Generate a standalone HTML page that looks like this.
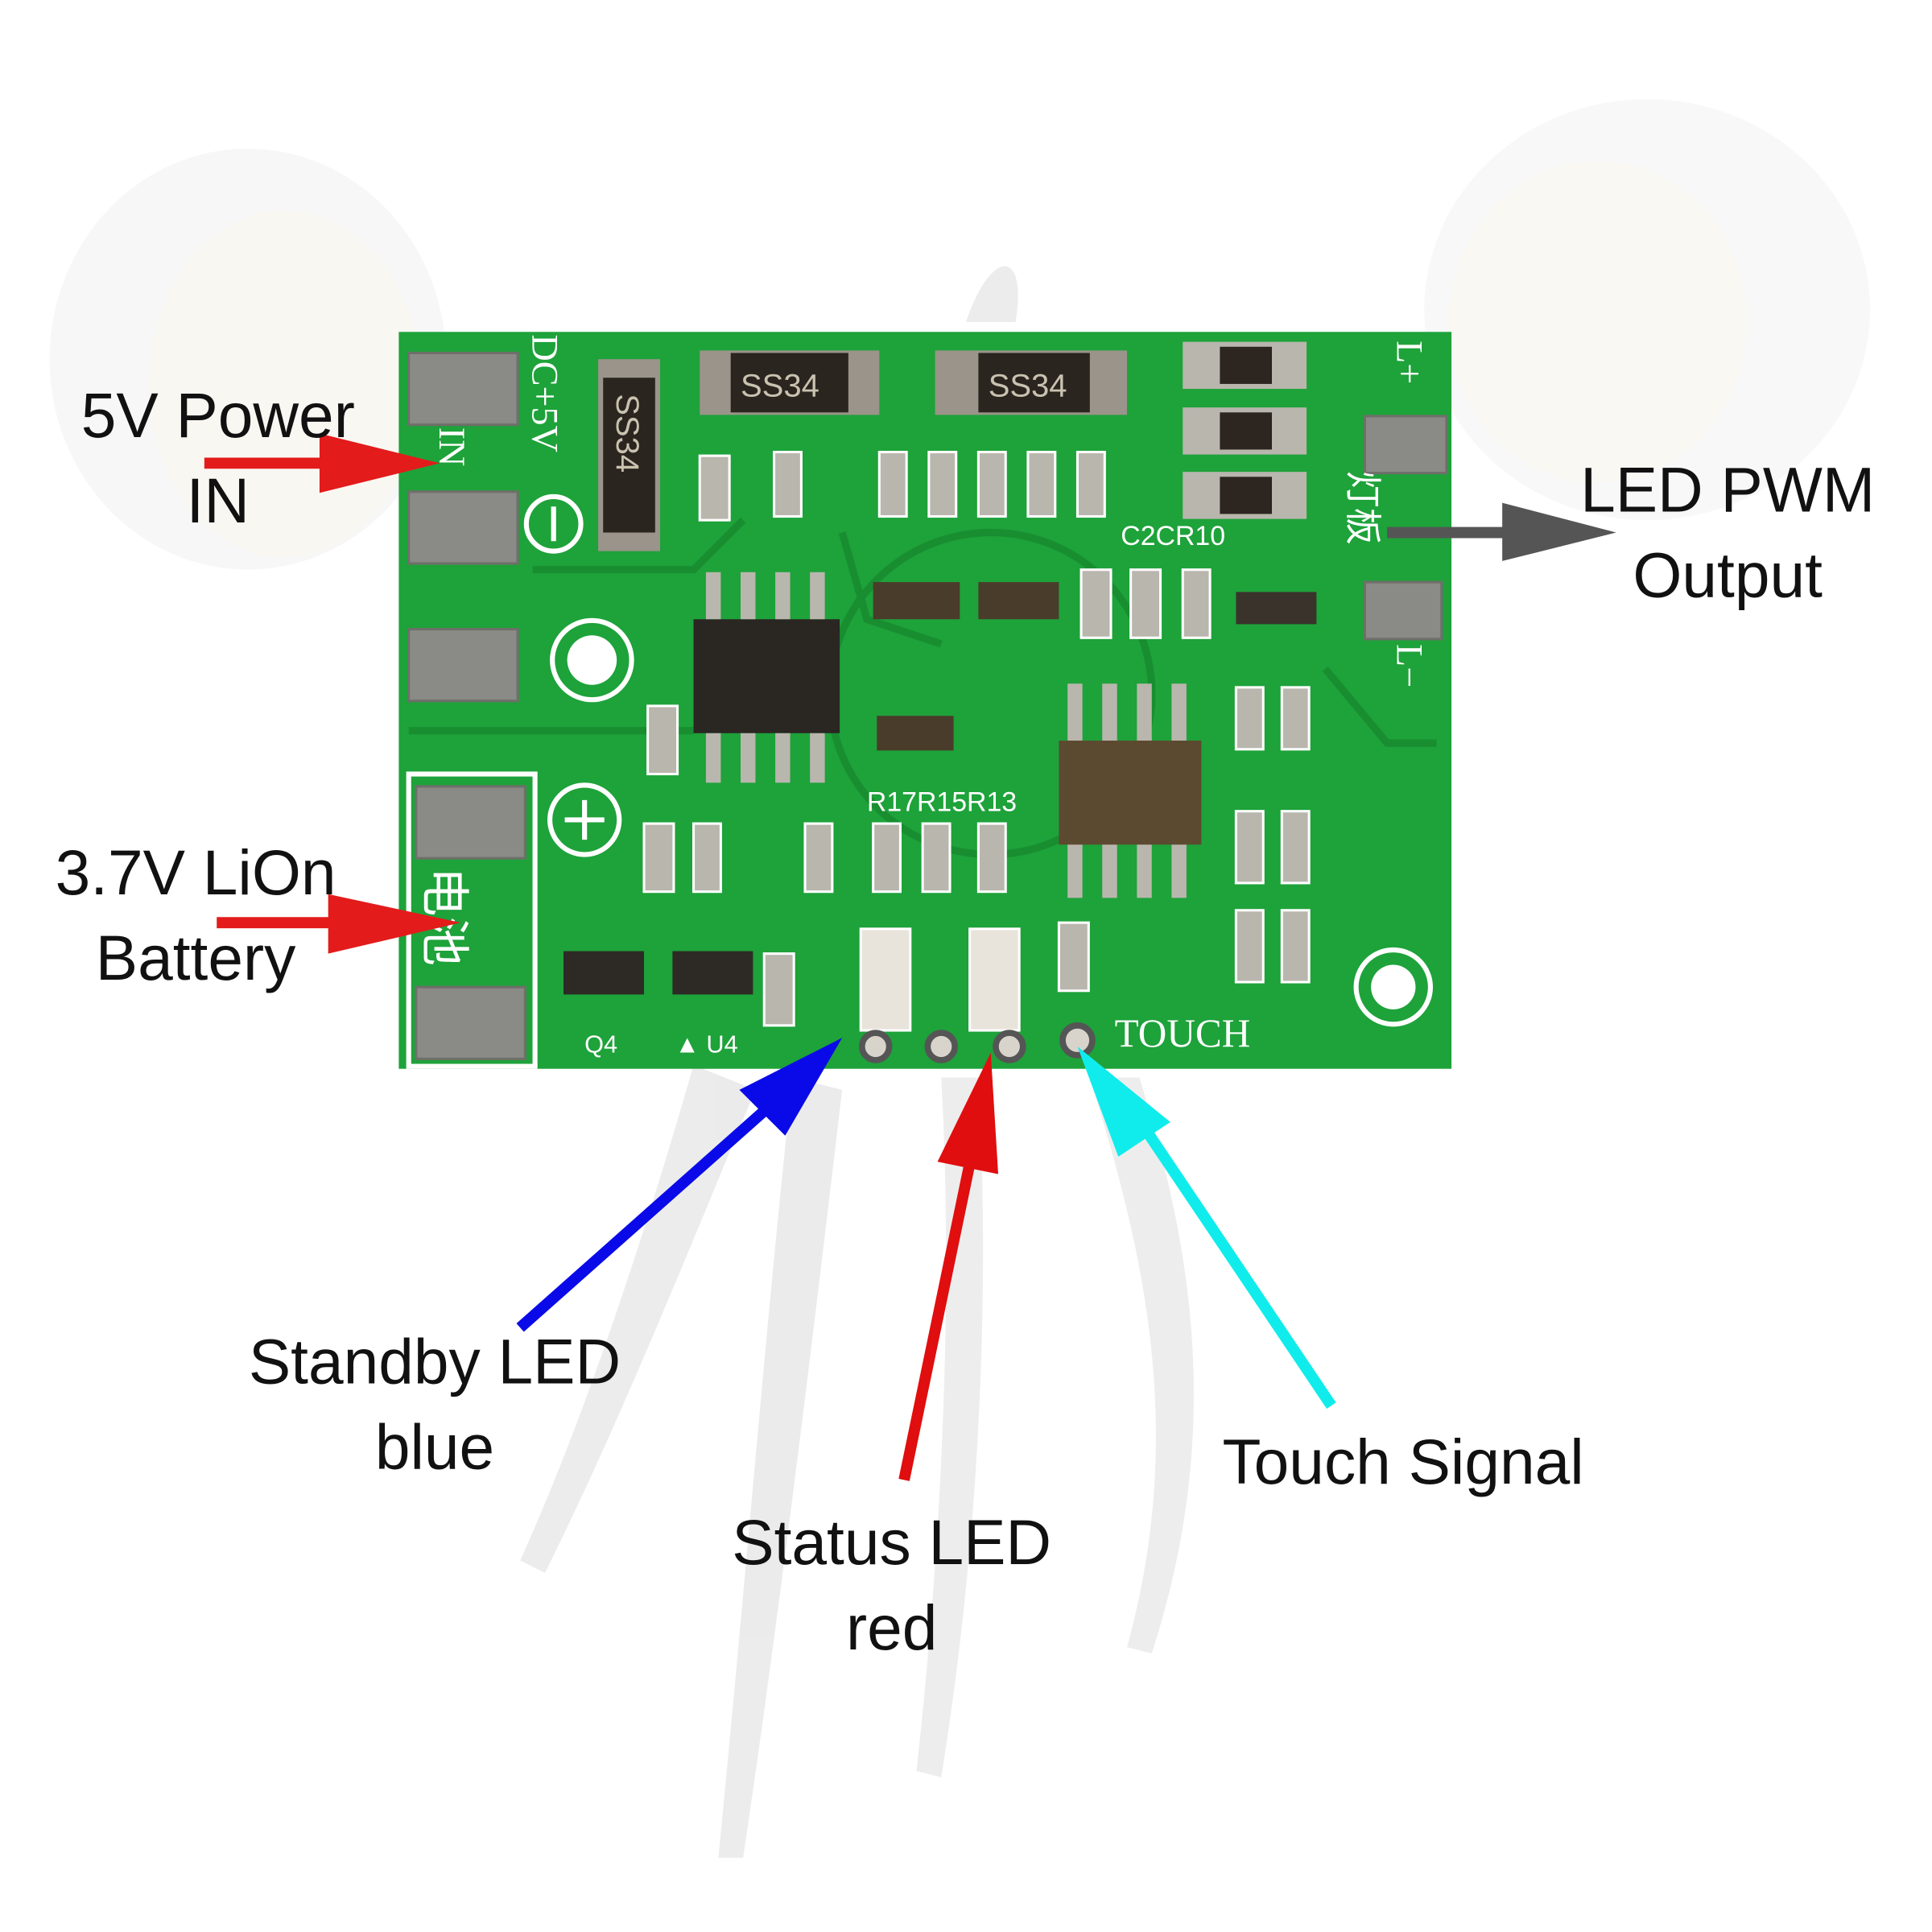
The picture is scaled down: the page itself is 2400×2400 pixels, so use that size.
<!DOCTYPE html>
<html><head><meta charset="utf-8"><style>
html,body{margin:0;padding:0;background:#fff;}
svg{display:block;}
</style></head><body>
<svg width="2400" height="2400" viewBox="0 0 1560 1560" xmlns="http://www.w3.org/2000/svg" font-family="Liberation Sans, DejaVu Sans, sans-serif">
<rect width="1560" height="1560" fill="#fff"/>
<!-- faint background -->
<g opacity="0.4">
<ellipse cx="200" cy="290" rx="160" ry="170" fill="#ececec"/>
<ellipse cx="1330" cy="250" rx="180" ry="170" fill="#eeeeee"/>
<ellipse cx="230" cy="310" rx="110" ry="140" fill="#f1ece0"/>
<ellipse cx="1290" cy="260" rx="120" ry="130" fill="#f3eee2"/>
<path d="M560 860 C520 1000 470 1150 420 1260 L440 1270 C500 1150 560 1000 610 880Z" fill="#cfcfcf"/>
<path d="M640 870 C620 1050 600 1300 580 1500 L600 1500 C630 1300 660 1050 680 880Z" fill="#cfcfcf"/>
<path d="M760 870 C770 1050 760 1250 740 1430 L760 1435 C790 1250 800 1050 790 870Z" fill="#d2d2d2"/>
<path d="M880 870 C920 1000 960 1150 910 1330 L930 1335 C990 1150 960 1000 920 870Z" fill="#d2d2d2"/>
<path d="M780 260 C800 200 830 200 820 260Z" fill="#cfcfcf"/>
</g>
<!-- PCB -->
<rect x="322" y="268" width="850" height="595" fill="#1ea23a"/>
<g stroke="#178a2f" stroke-width="6" fill="none" opacity="0.8">
<path d="M430 460 L560 460 L600 420"/><path d="M330 590 L560 590"/><path d="M680 430 L700 500 L760 520"/><circle cx="800" cy="560" r="130"/><path d="M1070 540 L1120 600 L1160 600"/>
</g>
<!-- pads -->
<g fill="#8a8a86" stroke="#6f6f6a" stroke-width="2">
<rect x="330" y="285" width="88" height="58"/><rect x="330" y="397" width="88" height="58"/><rect x="330" y="508" width="88" height="58"/>
<rect x="336" y="635" width="88" height="58"/><rect x="336" y="797" width="88" height="58"/>
<rect x="1102" y="336" width="66" height="46"/><rect x="1102" y="470" width="62" height="46"/>
</g>
<rect x="330" y="625" width="102" height="236" fill="none" stroke="#fff" stroke-width="4"/>
<!-- silkscreen text -->
<g fill="#fff" font-family="Liberation Serif, serif" font-size="30">
<text transform="translate(355,345) rotate(90)">IN</text>
<text transform="translate(430,270) rotate(90)">DC+5V</text>
<text transform="translate(1128,275) rotate(90)">L+</text>
<text transform="translate(1128,520) rotate(90)">L−</text>
<text x="900" y="845" font-size="32">TOUCH</text>
<text x="905" y="440" font-size="22" font-family="Liberation Sans,sans-serif">C2CR10</text>
<text x="700" y="655" font-size="22" font-family="Liberation Sans,sans-serif">R17R15R13</text>
<text x="472" y="850" font-size="20" font-family="Liberation Sans,sans-serif">Q4</text>
<text x="545" y="850" font-size="20" font-family="Liberation Sans,sans-serif">▲ U4</text>
<text transform="translate(345,700) rotate(90)" font-size="40" font-family="Noto Sans CJK SC,sans-serif">电池</text>
<text transform="translate(1090,380) rotate(90)" font-size="30" font-family="Noto Sans CJK SC,sans-serif">灯板</text>
</g>
<g fill="none" stroke="#fff" stroke-width="4">
<circle cx="447" cy="423" r="22"/><line x1="447" y1="409" x2="447" y2="437"/>
<circle cx="472" cy="662" r="28"/><line x1="456" y1="662" x2="488" y2="662"/><line x1="472" y1="646" x2="472" y2="678"/>
<circle cx="478" cy="533" r="32"/><circle cx="1125" cy="797" r="30"/>
</g>
<circle cx="478" cy="533" r="20" fill="#fff"/><circle cx="1125" cy="797" r="18" fill="#fff"/>
<!-- diodes -->
<g>
<rect x="483" y="290" width="50" height="155" fill="#9a948a"/><rect x="487" y="305" width="42" height="125" fill="#2b2520"/>
<rect x="565" y="283" width="145" height="52" fill="#9a948a"/><rect x="590" y="285" width="95" height="48" fill="#2b2520"/>
<rect x="755" y="283" width="155" height="52" fill="#9a948a"/><rect x="790" y="285" width="90" height="48" fill="#2b2520"/>
</g>
<g fill="#c9c2b0" font-size="26"><text transform="translate(498,318) rotate(90)">SS34</text><text x="598" y="320">SS34</text><text x="798" y="320">SS34</text></g>
<!-- resistors 3R3 -->
<g><rect x="955" y="276" width="100" height="38" fill="#b9b6ae"/><rect x="985" y="280" width="42" height="30" fill="#2d2620"/>
<rect x="955" y="329" width="100" height="38" fill="#b9b6ae"/><rect x="985" y="333" width="42" height="30" fill="#2d2620"/>
<rect x="955" y="381" width="100" height="38" fill="#b9b6ae"/><rect x="985" y="385" width="42" height="30" fill="#2d2620"/></g>
<!-- ICs -->
<rect x="560" y="500" width="118" height="92" fill="#2a2622"/>
<g fill="#b9b6ae"><rect x="570" y="462" width="12" height="38"/><rect x="598" y="462" width="12" height="38"/><rect x="626" y="462" width="12" height="38"/><rect x="654" y="462" width="12" height="38"/>
<rect x="570" y="592" width="12" height="40"/><rect x="598" y="592" width="12" height="40"/><rect x="626" y="592" width="12" height="40"/><rect x="654" y="592" width="12" height="40"/>
<rect x="862" y="552" width="12" height="46"/><rect x="890" y="552" width="12" height="46"/><rect x="918" y="552" width="12" height="46"/><rect x="946" y="552" width="12" height="46"/>
<rect x="862" y="680" width="12" height="45"/><rect x="890" y="680" width="12" height="45"/><rect x="918" y="680" width="12" height="45"/><rect x="946" y="680" width="12" height="45"/></g>
<rect x="855" y="598" width="115" height="84" fill="#5c4a30"/>
<rect x="705" y="470" width="70" height="30" fill="#4a3c2a"/><rect x="790" y="470" width="65" height="30" fill="#4a3c2a"/><rect x="998" y="478" width="65" height="26" fill="#3a332c"/>
<rect x="708" y="578" width="62" height="28" fill="#4a3c2a"/>
<rect x="455" y="768" width="65" height="35" fill="#2d2a26"/><rect x="543" y="768" width="65" height="35" fill="#2d2a26"/>
<!-- small parts -->
<g fill="#b9b6ae" stroke="#fff" stroke-width="2">
<rect x="565" y="368" width="24" height="52"/><rect x="625" y="365" width="22" height="52"/>
<rect x="710" y="365" width="22" height="52"/><rect x="750" y="365" width="22" height="52"/><rect x="790" y="365" width="22" height="52"/><rect x="830" y="365" width="22" height="52"/><rect x="870" y="365" width="22" height="52"/>
<rect x="873" y="460" width="24" height="55"/><rect x="913" y="460" width="24" height="55"/><rect x="955" y="460" width="22" height="55"/>
<rect x="523" y="570" width="24" height="55"/><rect x="520" y="665" width="24" height="55"/><rect x="560" y="665" width="22" height="55"/>
<rect x="650" y="665" width="22" height="55"/><rect x="705" y="665" width="22" height="55"/><rect x="745" y="665" width="22" height="55"/><rect x="790" y="665" width="22" height="55"/>
<rect x="998" y="555" width="22" height="50"/><rect x="1035" y="555" width="22" height="50"/>
<rect x="998" y="655" width="22" height="58"/><rect x="1035" y="655" width="22" height="58"/><rect x="998" y="735" width="22" height="58"/><rect x="1035" y="735" width="22" height="58"/>
<rect x="855" y="745" width="24" height="55"/><rect x="617" y="770" width="24" height="58"/>
<rect x="695" y="750" width="40" height="82" fill="#e8e4dc"/><rect x="783" y="750" width="40" height="82" fill="#e8e4dc"/>
</g>
<g fill="#d8d4cc" stroke="#555" stroke-width="5"><circle cx="707" cy="845" r="11"/><circle cx="760" cy="845" r="11"/><circle cx="815" cy="845" r="11"/><circle cx="870" cy="840" r="12"/></g>
<!-- arrows -->
<g stroke-linecap="butt">
<line x1="165" y1="374" x2="265" y2="374" stroke="#e31b1b" stroke-width="9"/><polygon points="258,350 355,374 258,398" fill="#e31b1b"/>
<line x1="175" y1="745" x2="275" y2="745" stroke="#e31b1b" stroke-width="9"/><polygon points="265,722 372,745 265,770" fill="#e31b1b"/>
<line x1="1120" y1="430" x2="1220" y2="430" stroke="#555" stroke-width="9"/><polygon points="1213,406 1305,430 1213,453" fill="#555"/>
<line x1="420" y1="1072" x2="625" y2="890" stroke="#0a0ae8" stroke-width="9"/><polygon points="597,880 680,838 634,917" fill="#0a0ae8"/>
<line x1="730" y1="1195" x2="785" y2="930" stroke="#e00e0e" stroke-width="9"/><polygon points="757,938 800,850 806,948" fill="#e00e0e"/>
<line x1="1075" y1="1135" x2="925" y2="912" stroke="#10ecec" stroke-width="9"/><polygon points="903,934 870,845 945,906" fill="#10ecec"/>
</g>
<!-- labels -->
<g font-family="Liberation Sans, sans-serif" font-size="51" fill="#111" text-anchor="middle">
<text x="176" y="353">5V Power</text><text x="176" y="422">IN</text>
<text x="1395" y="413">LED PWM</text><text x="1395" y="482">Output</text>
<text x="158" y="722">3.7V LiOn</text><text x="158" y="791">Battery</text>
<text x="351" y="1117">Standby LED</text><text x="351" y="1186">blue</text>
<text x="720" y="1263">Status LED</text><text x="720" y="1332">red</text>
<text x="1133" y="1198">Touch Signal</text>
</g>
</svg>
</body></html>
